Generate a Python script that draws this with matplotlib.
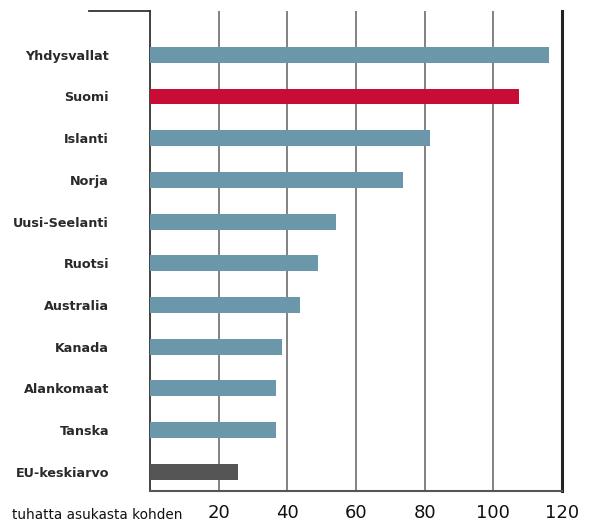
import matplotlib
matplotlib.use("Agg")
import matplotlib.pyplot as plt
from matplotlib.lines import Line2D

# maat ja arvot (tuhatta asukasta kohden)
maat = ["Yhdysvallat", "Suomi", "Islanti", "Norja", "Uusi-Seelanti", "Ruotsi",
        "Australia", "Kanada", "Alankomaat", "Tanska", "EU-keskiarvo"]
arvot = [116.2, 107.5, 81.6, 73.7, 54.2, 49.0, 43.7, 38.4, 36.7, 36.7, 25.6]
varit = ["#6a97aa", "#c70c36", "#6a97aa", "#6a97aa", "#6a97aa", "#6a97aa",
         "#6a97aa", "#6a97aa", "#6a97aa", "#6a97aa", "#555555"]
tikit = [20, 40, 60, 80, 100, 120]

W, H = 594, 525
fig = plt.figure(figsize=(W / 100, H / 100), dpi=100)
ax = fig.add_axes([150 / W, 1 - 491 / H, (562 - 150) / W, (491 - 11) / H])

y = list(range(len(maat)))
ax.barh(y, arvot, height=0.38, color=varit, zorder=3)

ax.set_xlim(0, 120)
ax.set_ylim(len(maat) - 0.54, -1.05)

# pystysuorat apuviivat
for t in tikit[:-1]:
    ax.axvline(t, color="#777777", lw=1.3, zorder=1)

ax.spines["top"].set_visible(False)
ax.spines["left"].set_color("#333333")
ax.spines["left"].set_linewidth(1.3)
ax.spines["bottom"].set_color("#555555")
ax.spines["bottom"].set_linewidth(1.5)
ax.spines["right"].set_color("#222222")
ax.spines["right"].set_linewidth(2.2)

ax.set_yticks(y)
ax.set_yticklabels(maat, fontsize=9.2, fontweight="bold", color="#2a2a2a")
ax.tick_params(axis="y", length=0, pad=29.5)

ax.set_xticks(tikit)
ax.set_xticklabels([str(t) for t in tikit], fontsize=13, color="#111111")
ax.tick_params(axis="x", length=0, pad=9.5)

# ylareunan vaakaviiva
fig.add_artist(Line2D([89 / W, 150 / W], [1 - 11 / H, 1 - 11 / H],
                      color="#333333", lw=1.3))

fig.text(12 / W, 1 - 515 / H, "tuhatta asukasta kohden", fontsize=9.8,
         color="#111111", va="center", ha="left")

fig.savefig("out.png", dpi=100)
